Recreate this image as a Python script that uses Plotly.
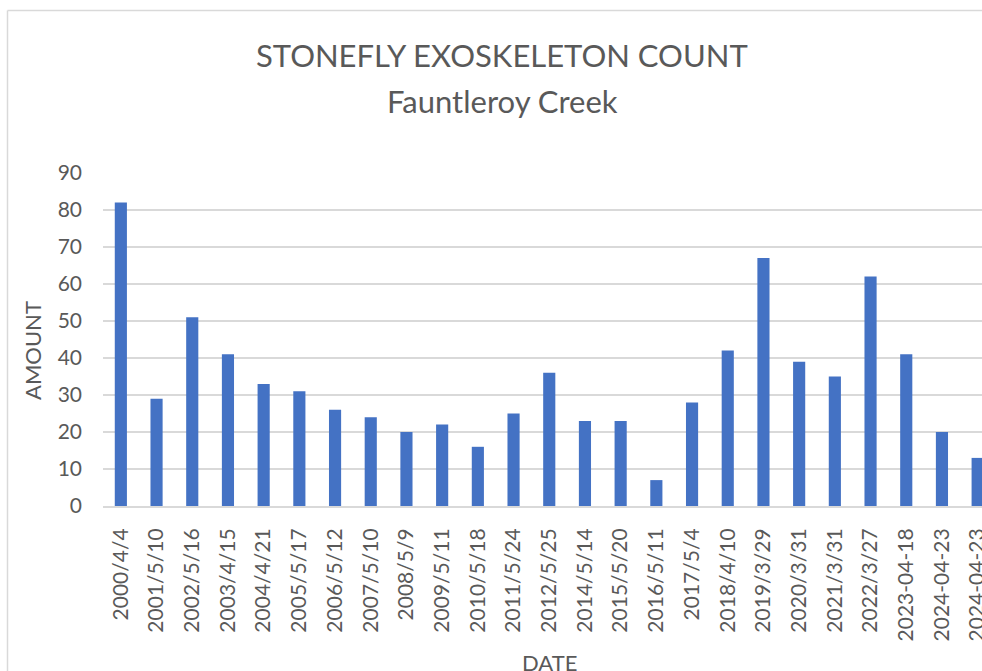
import plotly.graph_objects as go

dates = ["2000/4/4", "2001/5/10", "2002/5/16", "2003/4/15", "2004/4/21", "2005/5/17",
         "2006/5/12", "2007/5/10", "2008/5/9", "2009/5/11", "2010/5/18", "2011/5/24",
         "2012/5/25", "2014/5/14", "2015/5/20", "2016/5/11", "2017/5/4", "2018/4/10",
         "2019/3/29", "2020/3/31", "2021/3/31", "2022/3/27", "2023-04-18", "2024-04-23",
         "2024-04-23"]
amounts = [82, 29, 51, 41, 33, 31, 26, 24, 20, 22, 16, 25, 36, 23, 23, 7, 28, 42,
           67, 39, 35, 62, 41, 20, 13]
y_ticks = [0, 10, 20, 30, 40, 50, 60, 70, 80, 90]

W, H = 982, 671
L, T, B = 103, 173, 506  # plot area pixel edges
R = 982

def px(x):
    return (x - L) / (R - L)

def py(y):
    return (B - y) / (B - T)

positions = list(range(len(dates)))
FONT = "Lato"
GREY = "#595959"

fig = go.Figure(go.Bar(x=positions, y=amounts, marker=dict(color="#4472C4", line=dict(width=0)),
                       width=0.34))

cat_w = 35.7
x_end = (R - L) / cat_w - 0.5

fig.update_layout(
    width=W, height=H,
    margin=dict(l=L, r=W - R, t=T, b=H - B, pad=0, autoexpand=False),
    paper_bgcolor="white", plot_bgcolor="white",
    showlegend=False,
    font=dict(family=FONT, color=GREY),
    xaxis=dict(range=[-0.5, x_end], tickmode="array", tickvals=positions, ticktext=dates,
               tickangle=-90, tickfont=dict(size=21, color=GREY, family=FONT),
               showgrid=False, showline=True, linecolor="#d9d9d9", linewidth=2,
               ticks="", ticklabelstandoff=12, zeroline=False,
               ticklabeloverflow="allow", automargin=False),
    yaxis=dict(range=[0, 90], tickmode="array", tickvals=y_ticks,
               tickfont=dict(size=21, color=GREY, family=FONT),
               showgrid=True, gridcolor="#d9d9d9", gridwidth=1.5,
               showline=False, zeroline=False, ticks="", ticklabelstandoff=20,
               automargin=False),
    shapes=[dict(type="line", xref="paper", yref="paper", x0=px(7.5), x1=px(7.5),
                 y0=py(700), y1=py(10.5), line=dict(color="#d9d9d9", width=1.5)),
            dict(type="line", xref="paper", yref="paper", x0=px(7.5), x1=px(1000),
                 y0=py(10.5), y1=py(10.5), line=dict(color="#d9d9d9", width=1.5))],
    annotations=[
        dict(text="STONEFLY EXOSKELETON COUNT", xref="paper", yref="paper", x=px(502), y=py(55),
             xanchor="center", yanchor="middle", showarrow=False,
             font=dict(size=31, color=GREY, family=FONT)),
        dict(text="Fauntleroy Creek", xref="paper", yref="paper", x=px(502), y=py(101),
             xanchor="center", yanchor="middle", showarrow=False,
             font=dict(size=31, color=GREY, family=FONT)),
        dict(text="AMOUNT", xref="paper", yref="paper", x=px(32), y=py(351), textangle=-90,
             xanchor="center", yanchor="middle", showarrow=False,
             font=dict(size=22, color=GREY, family=FONT)),
        dict(text="DATE", xref="paper", yref="paper", x=px(549), y=py(662),
             xanchor="center", yanchor="middle", showarrow=False,
             font=dict(size=22, color=GREY, family=FONT)),
    ],
)

fig.write_html("out.html")
